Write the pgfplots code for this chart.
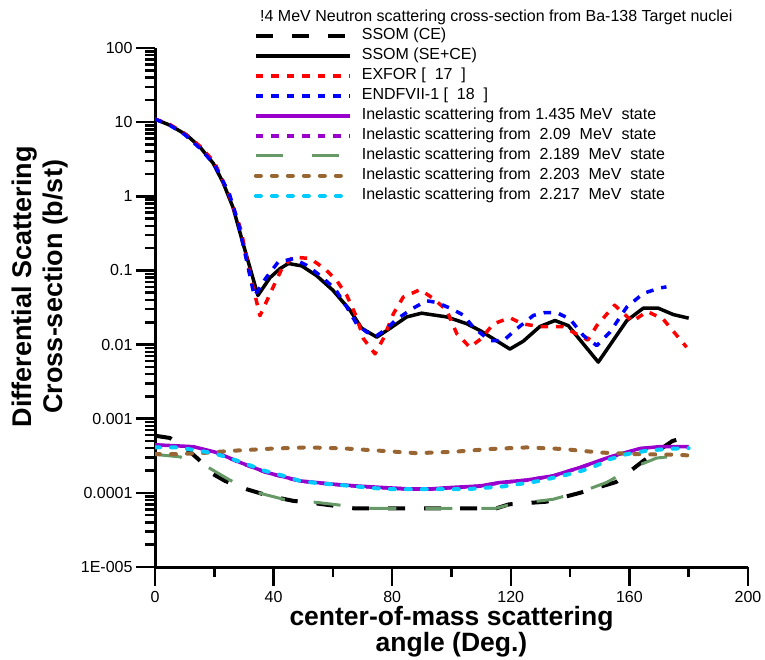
\documentclass[border=0pt]{standalone}
\usepackage{fontspec}
\setmainfont{Liberation Sans}
\setsansfont{Liberation Sans}
\usepackage{pgfplots}
\pgfplotsset{compat=1.18}

\definecolor{exfor}{RGB}{255,0,0}
\definecolor{endf}{RGB}{0,0,255}
\definecolor{purp}{RGB}{153,0,204}
\definecolor{grn}{RGB}{102,153,102}
\definecolor{brn}{RGB}{153,102,51}
\definecolor{cyn}{RGB}{0,204,255}

\begin{document}
\begin{tikzpicture}
\path[use as bounding box] (0,0) rectangle (765pt,660pt);
\begin{axis}[
    at={(155pt,93pt)}, anchor=south west,
    scale only axis, width=593pt, height=519pt,
    xmin=0, xmax=200, ymin=1e-5, ymax=100, ymode=log,
    axis x line*=bottom, axis y line*=left,
    axis line style={line width=3pt},
    tick align=outside,
    major tick length=19pt, minor tick length=10pt,
    every tick/.style={black, line width=2.5pt},
    xtick={0,40,80,120,160,200},
    xticklabels={0,40,80,120,160,200},
    minor xtick={20,60,100,140,180},
    ytick={1e-5,1e-4,1e-3,1e-2,1e-1,1,10,100},
    yticklabels={1E-005,0.0001,0.001,0.01,0.1,1,10,100},
    ticklabel style={font=\fontsize{16}{18}\selectfont},
    xticklabel style={inner sep=1pt, yshift=-4.5pt},
    xlabel={center-of-mass scattering\\angle (Deg.)},
    xlabel style={font=\bfseries\fontsize{26.5}{26}\selectfont, align=center,
        inner sep=0pt, at={(axis description cs:-0.0,0)}, anchor=center,
        at={(axis description cs:0.5,-0.1252)}},
    ylabel={Differential Scattering\\Cross-section (b/st)},
    ylabel style={font=\bfseries\fontsize{27}{31}\selectfont, align=center,
        at={(axis description cs:-0.194,0.54)}, anchor=center},
    legend image code/.code={\draw[#1] (0pt,0pt) -- (94pt,0pt);},
    legend cell align=left,
    legend style={at={(axis description cs:0.1664,1.043)}, anchor=north west,
        draw=none, fill=none, inner sep=0pt,
        font=\fontsize{16}{19}\selectfont,
        nodes={text height=12pt, text depth=4pt, inner sep=2pt},
        column sep=8pt},
    every axis plot/.append style={line join=round},
]
% SSOM (CE)
\addplot[black, line width=4pt, dash pattern=on 17pt off 19pt] coordinates {
(0,5.9e-4)(5,5.5e-4)(10.7,3.9e-4)(14.6,2.85e-4)(19.6,1.79e-4)(23.6,1.45e-4)
(30.9,1.12e-4)(38,9.2e-5)(46.6,7.8e-5)(54.5,7.2e-5)(66.9,6.2e-5)(85,6.2e-5)
(100,6.2e-5)(115.2,6.2e-5)(119.4,7.0e-5)(132,7.6e-5)(143.3,1.0e-4)(155.5,1.4e-4)
(164.7,2.7e-4)(174.5,5.0e-4)(180,5.8e-4)};
% SSOM (SE+CE)
\addplot[black, line width=3.5pt] coordinates {
(0,11)(5,9.1)(10.7,6.7)(15.2,4.6)(19.6,2.8)(22.9,1.55)(26.3,0.71)(29.7,0.23)
(32,0.11)(34.7,0.046)(38.8,0.080)(42.2,0.106)(45,0.124)(49.5,0.115)(54.5,0.085)
(60,0.054)(65.8,0.029)(69.7,0.0166)(74.8,0.0126)(79.3,0.0166)(84.9,0.0236)
(89.9,0.0265)(98.4,0.0236)(105,0.0192)(109.6,0.0155)(119.7,0.0087)(124.2,0.0111)
(129.8,0.0175)(134.9,0.0211)(139.4,0.018)(149.5,0.0058)(159.1,0.021)(164.7,0.031)
(169.7,0.031)(174.8,0.0254)(180,0.0227)};
% EXFOR
\addplot[exfor, line width=3.5pt, dash pattern=on 7.5pt off 8pt] coordinates {
(0,11)(5,9.3)(10,7.0)(15,4.8)(20,2.9)(25,1.05)(29,0.35)(32,0.09)(35.4,0.0245)
(39.8,0.059)(43,0.11)(46.5,0.151)(52.3,0.145)(57.3,0.105)(61.3,0.073)(64.7,0.046)
(68,0.0234)(70.3,0.012)(74.2,0.0075)(77,0.012)(80.4,0.026)(83.7,0.0436)(89.4,0.055)
(93.9,0.0417)(98.4,0.029)(101.8,0.014)(106.2,0.0092)(110,0.012)(114.1,0.019)
(119.7,0.023)(124,0.019)(129.8,0.0175)(137.6,0.0175)(142,0.014)(146,0.0115)
(149,0.018)(155,0.034)(161,0.0205)(166,0.028)(171.4,0.022)(179.3,0.0092)};
% ENDF
\addplot[endf, line width=3.5pt, dash pattern=on 7.5pt off 8pt] coordinates {
(0,11)(5,9.1)(10,6.8)(15,4.5)(20,2.7)(25,1.1)(28,0.45)(31,0.13)(33.5,0.045)
(37.5,0.08)(41.5,0.129)(46.6,0.144)(51.2,0.117)(55.6,0.086)(60.7,0.0566)(64.7,0.032)
(68,0.019)(71.4,0.0147)(74.8,0.0132)(78.1,0.0163)(81.5,0.022)(87.1,0.031)(91.6,0.039)
(95,0.037)(99.5,0.031)(104,0.025)(107.4,0.017)(113,0.0113)(117.5,0.0113)(122,0.0163)
(127.6,0.0247)(131.5,0.027)(135.5,0.027)(140,0.022)(144.5,0.0132)(149,0.0097)
(153.5,0.0148)(159.1,0.032)(164.7,0.049)(170.3,0.058)(172.5,0.06)};
% 1.435 MeV
\addplot[purp, line width=3.5pt] coordinates {
(0,4.45e-4)(12.9,4.2e-4)(20.8,3.5e-4)(28.7,2.57e-4)(37.7,1.88e-4)(48.9,1.45e-4)
(60.1,1.31e-4)(68,1.24e-4)(77,1.18e-4)(86,1.13e-4)(92.7,1.13e-4)(99.5,1.18e-4)
(109.6,1.24e-4)(116.4,1.38e-4)(125.4,1.49e-4)(134.3,1.7e-4)(143.3,2.2e-4)
(153.5,3.06e-4)(163.6,3.97e-4)(170.3,4.2e-4)(180,4.2e-4)};
% 2.09 MeV
\addplot[purp, line width=3.5pt, dash pattern=on 7.5pt off 8pt] coordinates {
(0,4.4e-4)(12.9,4.15e-4)(20.8,3.45e-4)(28.7,2.55e-4)(37.7,1.87e-4)(48.9,1.44e-4)
(60.1,1.3e-4)(68,1.23e-4)(77,1.17e-4)(86,1.12e-4)(92.7,1.12e-4)(99.5,1.17e-4)
(109.6,1.23e-4)(116.4,1.37e-4)(125.4,1.48e-4)(134.3,1.69e-4)(143.3,2.18e-4)
(153.5,3.03e-4)(163.6,3.93e-4)(170.3,4.15e-4)(180,4.15e-4)};
% 2.189 MeV
\addplot[grn, line width=3pt, dash pattern=on 27pt off 29pt] coordinates {
(0,3.3e-4)(8.4,3.06e-4)(18,2.2e-4)(24.7,1.53e-4)(32,1.07e-4)(43.3,8.2e-5)
(52.3,7.6e-5)(60.1,7.0e-5)(71.4,6.2e-5)(90,6.2e-5)(115,6.2e-5)(120,7.0e-5)
(131,7.9e-5)(134.3,8.2e-5)(144.5,1.06e-4)(152.3,1.38e-4)(161.3,2.2e-4)
(169.2,2.95e-4)(180,3.26e-4)};
% 2.203 MeV
\addplot[brn, line width=4pt, line cap=round, dash pattern=on 5pt off 11pt] coordinates {
(0,3.33e-4)(7.3,3.33e-4)(15.2,3.43e-4)(26.4,3.7e-4)(38.8,3.94e-4)(51.2,4.1e-4)
(63.5,3.98e-4)(75.9,3.7e-4)(88.3,3.43e-4)(100.6,3.58e-4)(113,3.9e-4)(125.4,4.1e-4)
(137.7,3.9e-4)(150.1,3.5e-4)(162.5,3.33e-4)(175.9,3.26e-4)(180,3.2e-4)};
% 2.217 MeV
\addplot[cyn, line width=4pt, line cap=round, dash pattern=on 5pt off 11pt] coordinates {
(0,4.1e-4)(7.3,4.1e-4)(12.9,3.8e-4)(19.7,3.43e-4)(25.3,2.94e-4)(30.9,2.44e-4)
(37.1,1.98e-4)(43.3,1.7e-4)(48.9,1.45e-4)(55.6,1.34e-4)(61.2,1.29e-4)(68,1.22e-4)
(73.5,1.16e-4)(80.2,1.12e-4)(92.2,1.12e-4)(105.1,1.12e-4)(117.4,1.22e-4)
(129.8,1.45e-4)(135.5,1.64e-4)(142.2,1.88e-4)(147.8,2.24e-4)(153.5,2.85e-4)
(159.1,3.33e-4)(165.8,3.7e-4)(172.5,3.9e-4)(178.1,4.0e-4)(180,4.0e-4)};
\legend{SSOM (CE), SSOM (SE+CE), EXFOR [\ \ 17\ \ ], ENDFVII-1 [\ \ 18\ \ ],
Inelastic scattering from 1.435 MeV\ \ state,
Inelastic scattering from\ \ 2.09\ \ MeV\ \ state,
Inelastic scattering from\ \ 2.189\ \ MeV\ \ state,
Inelastic scattering from\ \ 2.203\ \ MeV\ \ state,
Inelastic scattering from\ \ 2.217\ \ MeV\ \ state}
\end{axis}
\node[anchor=base west, inner sep=0pt, font=\fontsize{16}{19}\selectfont]
    at (260pt,638pt) {!4 MeV Neutron scattering cross-section from Ba-138 Target nuclei};
\end{tikzpicture}
\end{document}
